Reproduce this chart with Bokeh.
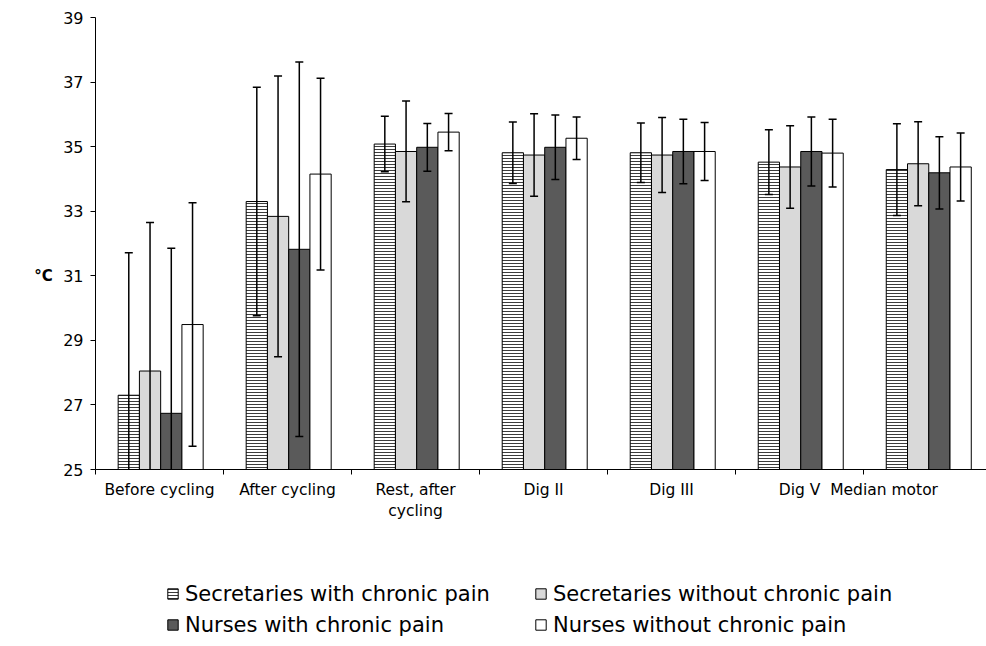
from bokeh.plotting import figure
from bokeh.layouts import row, column
from bokeh.models import FixedTicker, Legend, LegendItem, Range1d
from bokeh.core.properties import value
from bokeh.embed import file_html
from bokeh.resources import INLINE

# Skin temperature (°C), mean and SD per measurement point and group
categories = ["Before cycling", "After cycling", "Rest, after\ncycling",
              "Dig II", "Dig III", "Dig V", "Median motor"]
series = ["Secretaries with chronic pain", "Secretaries without chronic pain",
          "Nurses with chronic pain", "Nurses without chronic pain"]

sec_pain_mean = [27.30, 33.30, 35.08, 34.81, 34.81, 34.52, 34.29]
sec_pain_sd = [4.41, 3.54, 0.86, 0.95, 0.92, 1.00, 1.42]
sec_nopain_mean = [28.05, 32.84, 34.85, 34.74, 34.74, 34.37, 34.47]
sec_nopain_sd = [4.60, 4.35, 1.56, 1.28, 1.16, 1.28, 1.30]
nur_pain_mean = [26.74, 31.82, 34.98, 34.98, 34.85, 34.85, 34.19]
nur_pain_sd = [5.11, 5.80, 0.74, 1.00, 1.00, 1.07, 1.12]
nur_nopain_mean = [29.49, 34.15, 35.45, 35.26, 34.85, 34.80, 34.37]
nur_nopain_sd = [3.77, 2.97, 0.58, 0.66, 0.90, 1.05, 1.05]

y_ticks = [25, 27, 29, 31, 33, 35, 37, 39]
unit_label = "°C"

means = [sec_pain_mean, sec_nopain_mean, nur_pain_mean, nur_nopain_mean]
sds = [sec_pain_sd, sec_nopain_sd, nur_pain_sd, nur_nopain_sd]

FONT = "DejaVu Sans"
LEFT_W = 55
MAIN_W = 986 - LEFT_W
MAIN_H = 531
LEG_H = 646 - MAIN_H


def bare(fig):
    fig.outline_line_color = None
    fig.xgrid.visible = False
    fig.ygrid.visible = False
    fig.background_fill_color = "white"
    fig.border_fill_color = "white"
    return fig


# narrow strip holding the unit label, sharing the temperature scale
unit_fig = bare(figure(width=LEFT_W, height=646, output_backend="svg",
                       toolbar_location=None, x_range=Range1d(0, 1),
                       y_range=Range1d(25, 39), min_border_left=0,
                       min_border_right=0, min_border_top=17,
                       min_border_bottom=177))
unit_fig.axis.visible = False
unit_fig.text(x=[0.78], y=[31], text=[unit_label], text_font=value(FONT),
              text_font_size="15px", text_font_style="bold",
              text_align="center", text_baseline="middle", text_color="black")

p = bare(figure(width=MAIN_W, height=MAIN_H, output_backend="svg",
                toolbar_location=None, x_range=Range1d(0, 6.96),
                y_range=Range1d(25, 39), min_border_left=40,
                min_border_right=0, min_border_top=17, min_border_bottom=62))

bar_w = 0.166
first_off = 0.26
styles = [
    dict(fill_color="white", hatch_pattern="horizontal_line", hatch_color="#3c3c3c",
         hatch_scale=3, hatch_weight=1),
    dict(fill_color="#d9d9d9"),
    dict(fill_color="#5a5a5a"),
    dict(fill_color="white"),
]

for j, (m, s) in enumerate(zip(means, sds)):
    xs = [i + first_off + j * bar_w for i in range(len(categories))]
    p.vbar(x=xs, top=m, bottom=25, width=bar_w, line_color="black",
           line_width=1, **styles[j])

# error bars drawn over the bars
for j, (m, s) in enumerate(zip(means, sds)):
    xs = [i + first_off + j * bar_w for i in range(len(categories))]
    lo = [a - b for a, b in zip(m, s)]
    hi = [a + b for a, b in zip(m, s)]
    p.segment(x0=xs, y0=lo, x1=xs, y1=hi, line_color="black", line_width=1.5)
    p.scatter(x=xs + xs, y=hi + lo, marker="dash", size=8, line_color="black",
              line_width=1.5)

# x axis: boundary ticks as minor ticks, labels at category centres
label_pos = [0.5, 1.5, 2.5, 3.5, 4.5, 5.5, 6.16]
xa = p.xaxis[0]
xa.ticker = FixedTicker(ticks=label_pos, minor_ticks=[0, 1, 2, 3, 4, 5, 6])
xa.major_label_overrides = {pos: lab for pos, lab in zip(label_pos, categories)}
xa.major_tick_out = 0
xa.major_tick_in = 0
xa.minor_tick_out = 5
xa.minor_tick_in = 0
xa.minor_tick_line_color = "black"
xa.axis_line_color = "black"
xa.major_label_standoff = 6
xa.major_label_text_font = FONT
xa.major_label_text_font_size = "15.5px"
xa.major_label_text_color = "black"

ya = p.yaxis[0]
ya.ticker = FixedTicker(ticks=y_ticks)
ya.major_tick_out = 5
ya.major_tick_in = 0
ya.minor_tick_line_color = None
ya.axis_line_color = "black"
ya.major_tick_line_color = "black"
ya.major_label_standoff = 7
ya.major_label_text_font = FONT
ya.major_label_text_font_size = "16px"
ya.major_label_text_color = "black"

# legend strip below the chart, two columns of swatches
leg_fig = bare(figure(width=MAIN_W, height=LEG_H, output_backend="svg",
                      toolbar_location=None, x_range=Range1d(0, 1),
                      y_range=Range1d(0, 1), min_border=0))
leg_fig.axis.visible = False
swatches = []
for j in range(4):
    # a single swatch bar parked outside the visible range
    swatches.append(leg_fig.vbar(x=[5], top=[5], bottom=[4], width=0.1,
                                 line_color="black", line_width=1, **styles[j]))

leg_common = dict(glyph_width=13, glyph_height=13, label_standoff=6,
                  label_height=25, spacing=6, padding=0, margin=0,
                  border_line_color=None, background_fill_alpha=0,
                  label_text_font=FONT, label_text_font_size="21px",
                  label_text_color="black")
leg1 = Legend(items=[LegendItem(label=series[0], renderers=[swatches[0]]),
                     LegendItem(label=series[2], renderers=[swatches[2]])],
              location=(71, 9), **leg_common)
leg2 = Legend(items=[LegendItem(label=series[1], renderers=[swatches[1]]),
                     LegendItem(label=series[3], renderers=[swatches[3]])],
              location=(439, 9), **leg_common)
leg_fig.add_layout(leg1, "center")
leg_fig.add_layout(leg2, "center")

layout = row(unit_fig, column(p, leg_fig, spacing=0), spacing=0)
open("out.html", "w").write(file_html(layout, INLINE))
